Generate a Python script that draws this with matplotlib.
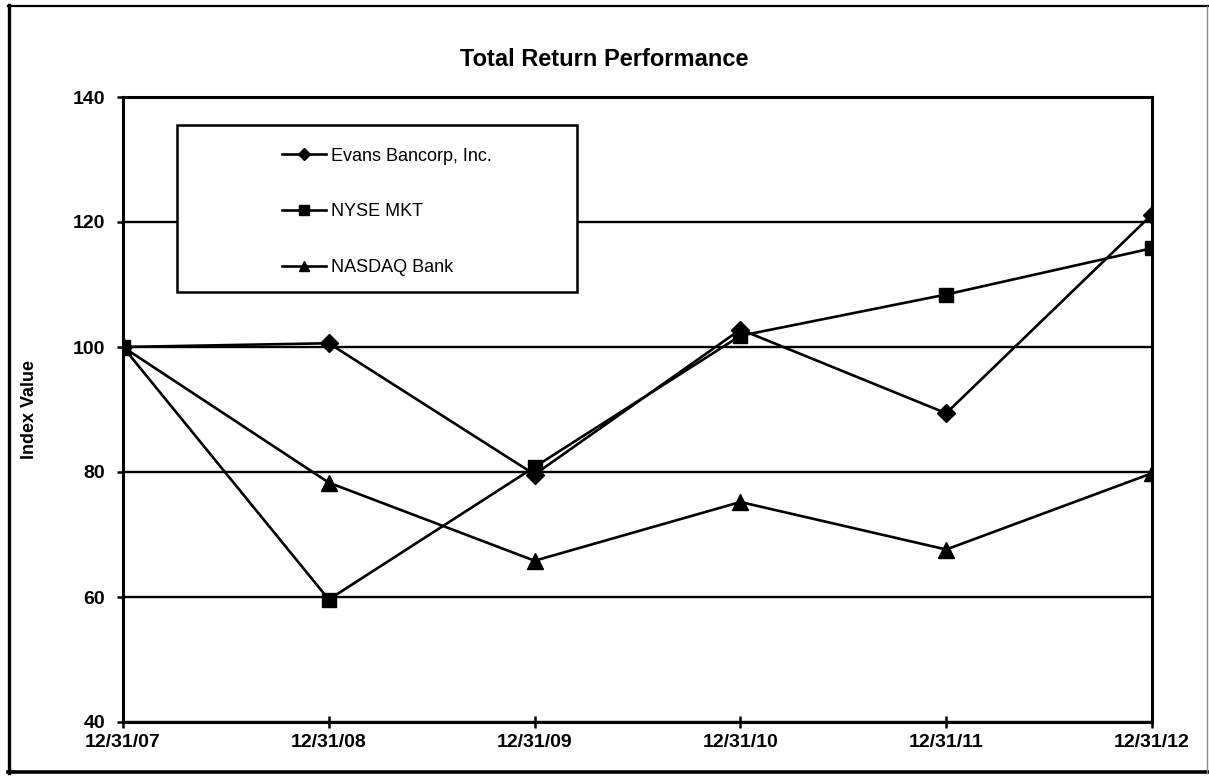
import matplotlib
matplotlib.use("Agg")
import matplotlib.pyplot as plt
from matplotlib.patches import Rectangle
from matplotlib.lines import Line2D

# datos
fechas = ["12/31/07", "12/31/08", "12/31/09", "12/31/10", "12/31/11", "12/31/12"]
evans = [100, 100.6, 79.6, 102.8, 89.4, 121.2]
nyse_mkt = [100, 59.6, 80.8, 101.8, 108.4, 115.8]
nasdaq_bank = [100, 78.3, 65.8, 75.2, 67.6, 79.8]

plt.rcParams['font.family'] = ['Liberation Sans', 'DejaVu Sans']

W, H = 1209, 776
fig = plt.figure(figsize=(W / 100, H / 100), dpi=100)
ax = fig.add_axes([123 / W, 1 - 722 / H, 1029 / W, 625 / H])

# marco exterior (izquierda y abajo más gruesos, derecha fina y gris)
def borde(x0, y0, x1, y1, lw, color='black'):
    fig.lines.append(Line2D([x0 / W, x1 / W], [1 - y0 / H, 1 - y1 / H],
                            transform=fig.transFigure, color=color, lw=lw))

borde(8, 6, 1208, 6, 1.6)
borde(9, 5, 9, 773, 2.4)
borde(8, 772, 1208, 772, 2.6)
borde(1207, 6, 1207, 773, 1.0, '#888888')

x = list(range(len(fechas)))
ax.plot(x, evans, color='black', lw=1.9, marker='D', ms=9, label='Evans Bancorp, Inc.', zorder=3)
ax.plot(x, nyse_mkt, color='black', lw=1.9, marker='s', ms=10, label='NYSE MKT', zorder=3)
ax.plot(x, nasdaq_bank, color='black', lw=1.9, marker='^', ms=11, label='NASDAQ Bank', zorder=3)

ax.set_xlim(0, len(fechas) - 1)
ax.set_ylim(40, 140)
ax.set_yticks([40, 60, 80, 100, 120, 140])
ax.set_xticks(x)
ax.set_xticklabels(fechas)
ax.yaxis.grid(True, color='black', lw=1.7)
ax.set_axisbelow(True)

for s in ax.spines.values():
    s.set_linewidth(2.2)

ax.tick_params(axis='y', direction='out', length=4, width=1.8, pad=9, labelsize=14)
ax.tick_params(axis='x', direction='inout', length=9, width=1.8, pad=4, labelsize=14)
for lbl in ax.get_xticklabels() + ax.get_yticklabels():
    lbl.set_fontweight('bold')

ax.set_ylabel('Index Value', fontsize=13, fontweight='bold')
ax.yaxis.set_label_coords(-0.083, 0.5)

fig.text(0.5, 1 - 60 / H, 'Total Return Performance', ha='center', va='center',
         fontsize=17, fontweight='bold')

# caja de la leyenda
ax.add_patch(Rectangle((54 / 1029, 1 - 167 / 625 - 28 / 625), 400 / 1029, 167 / 625,
                       transform=ax.transAxes, facecolor='white', edgecolor='black',
                       lw=1.8, zorder=4))
leg = ax.legend(loc='upper left', bbox_to_anchor=(0.139, 0.945), frameon=False,
                fontsize=13, handlelength=2.4, handletextpad=0.3, labelspacing=2.15,
                markerscale=0.7)
leg.set_zorder(5)

fig.savefig('out.png', dpi=100)
